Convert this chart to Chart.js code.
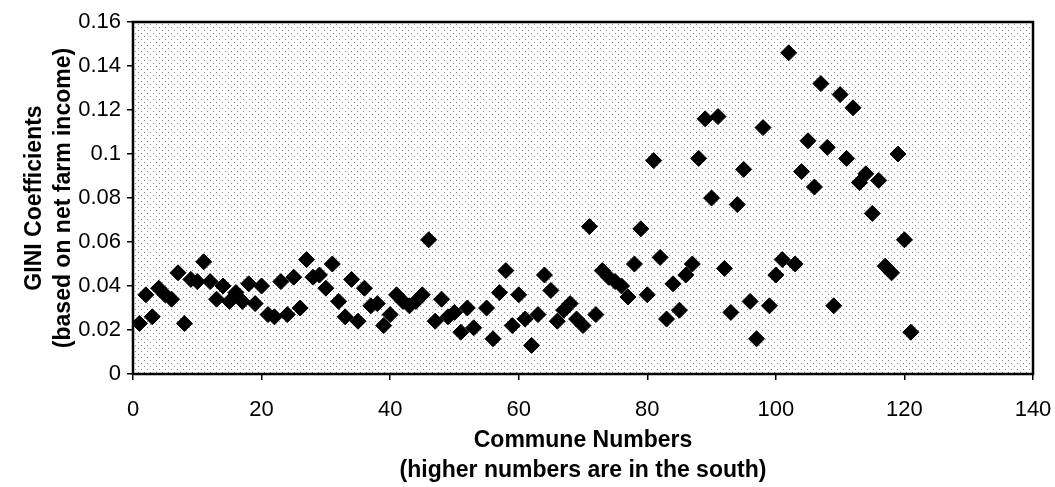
<!DOCTYPE html>
<html>
<head>
<meta charset="utf-8">
<script src="https://cdn.jsdelivr.net/npm/chart.js@4.4.1/dist/chart.umd.min.js"></script>
<style>
  html, body { margin: 0; padding: 0; background: #fff; }
  #wrap { width: 1055px; height: 487px; }
</style>
</head>
<body>
<div id="wrap"><canvas id="chart" width="1055" height="487"></canvas></div>
<script>
// --- data ---
const communes = [
  1, 2, 3, 4, 5, 6, 7, 8, 9, 10, 11, 12, 13, 14, 15, 16, 17, 18, 19, 20,
  21, 22, 23, 24, 25, 26, 27, 28, 29, 30, 31, 32, 33, 34, 35, 36, 37, 38, 39, 40,
  41, 42, 43, 44, 45, 46, 47, 48, 49, 50, 51, 52, 53, 55, 56, 57, 58, 59, 60,
  61, 62, 63, 64, 65, 66, 67, 68, 69, 70, 71, 72, 73, 74, 75, 76, 77, 78, 79, 80,
  81, 82, 83, 84, 85, 86, 87, 88, 89, 90, 91, 92, 93, 94, 95, 96, 97, 98, 99, 100,
  101, 102, 103, 104, 105, 106, 107, 108, 109, 110, 111, 112, 113, 114, 115, 116, 117, 118, 119, 120,
  121
];
const gini = [
  0.023, 0.036, 0.026, 0.039, 0.036, 0.034, 0.046, 0.023, 0.043, 0.042,
  0.051, 0.042, 0.034, 0.040, 0.033, 0.037, 0.033, 0.041, 0.032, 0.040,
  0.027, 0.026, 0.042, 0.027, 0.044, 0.030, 0.052, 0.044, 0.045, 0.039,
  0.050, 0.033, 0.026, 0.043, 0.024, 0.039, 0.031, 0.032, 0.022, 0.027,
  0.036, 0.033, 0.031, 0.033, 0.036, 0.061, 0.024, 0.034, 0.026, 0.028,
  0.019, 0.030, 0.021, 0.030, 0.016, 0.037, 0.047, 0.022, 0.036,
  0.025, 0.013, 0.027, 0.045, 0.038, 0.024, 0.029, 0.032, 0.025, 0.022,
  0.067, 0.027, 0.047, 0.044, 0.042, 0.040, 0.035, 0.050, 0.066, 0.036,
  0.097, 0.053, 0.025, 0.041, 0.029, 0.045, 0.050, 0.098, 0.116, 0.080,
  0.117, 0.048, 0.028, 0.077, 0.093, 0.033, 0.016, 0.112, 0.031, 0.045,
  0.052, 0.146, 0.050, 0.092, 0.106, 0.085, 0.132, 0.103, 0.031, 0.127,
  0.098, 0.121, 0.087, 0.091, 0.073, 0.088, 0.049, 0.046, 0.100, 0.061,
  0.019
];

const xTicks = [0, 20, 40, 60, 80, 100, 120, 140];
const xTickLabels = ["0", "20", "40", "60", "80", "100", "120", "140"];
const yTicks = [0, 0.02, 0.04, 0.06, 0.08, 0.1, 0.12, 0.14, 0.16];
const yTickLabels = ["0", "0.02", "0.04", "0.06", "0.08", "0.1", "0.12", "0.14", "0.16"];
const xTitle = ["Commune Numbers", "(higher numbers are in the south)"];
const yTitle = ["GINI Coefficients", "(based on net farm income)"];

Chart.defaults.font.family = "'Liberation Sans', Arial, sans-serif";
Chart.defaults.color = "#000";

// --- light stippled plot background + black frame ---
function makeStipple(ctx) {
  const c = document.createElement("canvas");
  c.width = 6; c.height = 6;
  const g = c.getContext("2d");
  g.fillStyle = "#fff";
  g.fillRect(0, 0, 6, 6);
  g.fillStyle = "#8a8a8a";
  g.fillRect(0, 0, 1, 1);
  g.fillRect(3, 3, 1, 1);
  return ctx.createPattern(c, "repeat");
}

const plotFrame = {
  id: "plotFrame",
  beforeDraw(chart) {
    const { ctx, chartArea: a } = chart;
    ctx.save();
    ctx.fillStyle = makeStipple(ctx);
    ctx.fillRect(a.left, a.top, a.right - a.left, a.bottom - a.top);
    ctx.restore();
  },
  afterDraw(chart) {
    const { ctx, chartArea: a } = chart;
    ctx.save();
    ctx.strokeStyle = "#000";
    ctx.lineWidth = 2.5;
    ctx.strokeRect(a.left, a.top, a.right - a.left, a.bottom - a.top);
    ctx.restore();
  }
};

const tickGrid = {
  display: true,
  drawOnChartArea: false,
  drawTicks: true,
  tickLength: 6,
  color: "#000",
  lineWidth: 1.5
};

new Chart(document.getElementById("chart").getContext("2d"), {
  type: "scatter",
  data: {
    datasets: [{
      data: communes.map((c, i) => ({ x: c, y: gini[i] })),
      pointStyle: "rectRot",
      pointRadius: 8,
      pointHoverRadius: 8,
      backgroundColor: "#000",
      borderColor: "#000",
      borderWidth: 1
    }]
  },
  options: {
    responsive: false,
    devicePixelRatio: 1,
    animation: false,
    layout: { padding: { top: 22, right: 22, left: 0, bottom: 0 } },
    plugins: { legend: { display: false }, tooltip: { enabled: false } },
    scales: {
      x: {
        type: "linear",
        min: 0,
        max: 140,
        afterBuildTicks: s => { s.ticks = xTicks.map(v => ({ value: v })); },
        afterFit: s => { s.height = 113; },
        ticks: {
          callback: (v, i) => xTickLabels[i],
          // small padding keeps the right overhang small; tall line pushes labels down
          font: { size: 22, lineHeight: 2.55 },
          padding: 2,
          maxRotation: 0,
          autoSkip: false
        },
        grid: tickGrid,
        border: { display: false },
        title: {
          display: true,
          text: xTitle,
          font: { size: 23, weight: "bold", lineHeight: 1.3 },
          padding: { top: 0, bottom: 1 }
        }
      },
      y: {
        type: "linear",
        min: 0,
        max: 0.16,
        afterBuildTicks: s => { s.ticks = yTicks.map(v => ({ value: v })); },
        afterFit: s => { s.width = 133; },
        ticks: {
          callback: (v, i) => yTickLabels[i],
          font: { size: 22 },
          padding: 6,
          autoSkip: false
        },
        grid: tickGrid,
        border: { display: false },
        title: {
          display: true,
          text: yTitle,
          font: { size: 23, weight: "bold", lineHeight: 1.26 },
          padding: { top: 20, bottom: 0 }
        }
      }
    }
  },
  plugins: [plotFrame]
});
</script>
</body>
</html>
